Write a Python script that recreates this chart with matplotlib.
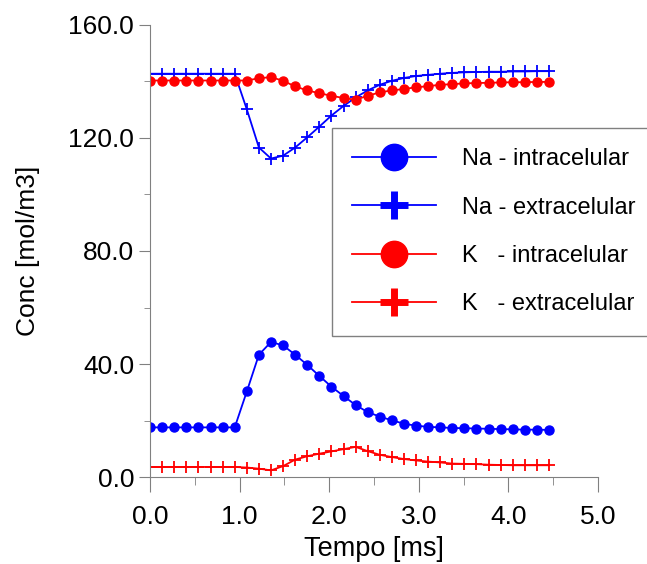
import numpy as np
import matplotlib
matplotlib.use("Agg")
import matplotlib.pyplot as plt
from matplotlib.lines import Line2D
from matplotlib.ticker import MultipleLocator, FormatStrFormatter

plt.rcParams['font.family'] = ['Liberation Sans', 'DejaVu Sans']

tempo = [0.0, 0.135, 0.27, 0.405, 0.54, 0.675, 0.81, 0.945, 1.08, 1.215,
         1.35, 1.485, 1.62, 1.755, 1.89, 2.025, 2.16, 2.295, 2.43, 2.565,
         2.7, 2.835, 2.97, 3.105, 3.24, 3.375, 3.51, 3.645, 3.78, 3.915,
         4.05, 4.185, 4.32, 4.455]

na_intra = [17.6, 17.6, 17.6, 17.6, 17.6, 17.6, 17.6, 17.6, 30.3, 43.3,
            47.8, 46.6, 43.3, 39.7, 35.8, 32.0, 28.7, 25.5, 23.0, 21.4,
            20.1, 18.9, 18.2, 17.8, 17.6, 17.4, 17.3, 17.2, 17.1, 17.0,
            16.9, 16.8, 16.8, 16.7]

na_extra = [142.7, 142.7, 142.7, 142.7, 142.7, 142.7, 142.7, 142.7, 130.1, 116.6,
            112.7, 113.7, 116.6, 120.2, 124.0, 127.9, 131.3, 134.3, 136.8, 138.8,
            140.2, 141.2, 141.9, 142.3, 142.7, 143.0, 143.2, 143.3, 143.4, 143.4,
            143.5, 143.5, 143.6, 143.6]

k_intra = [140.3, 140.3, 140.3, 140.3, 140.3, 140.3, 140.3, 140.3, 140.3, 141.1,
           141.5, 140.2, 138.2, 136.8, 135.8, 134.9, 134.1, 133.5, 134.9, 136.1,
           136.8, 137.3, 137.9, 138.3, 138.8, 139.0, 139.3, 139.4, 139.5, 139.6,
           139.7, 139.7, 139.8, 139.8]

k_extra = [3.6, 3.6, 3.6, 3.6, 3.6, 3.6, 3.6, 3.6, 3.4, 3.0,
           2.4, 3.9, 6.2, 7.4, 8.3, 9.1, 9.9, 10.7, 9.2, 7.9,
           7.1, 6.4, 5.9, 5.5, 5.2, 4.8, 4.7, 4.6, 4.4, 4.3,
           4.2, 4.2, 4.2, 4.2]

legenda = ['Na - intracelular', 'Na - extracelular', 'K   - intracelular', 'K   - extracelular']

fig = plt.figure(figsize=(6.47, 5.64), dpi=100)
ax = fig.add_axes([0.232, 0.154, 0.692, 0.802])

ax.plot(tempo, na_intra, color='blue', lw=1.3, marker='o', ms=6.5)
ax.plot(tempo, k_extra, color='red', lw=1.3, marker='+', ms=9, mew=1.3)
ax.plot(tempo, na_extra, color='blue', lw=1.3, marker='+', ms=9, mew=1.3)
ax.plot(tempo, k_intra, color='red', lw=1.3, marker='o', ms=6.5)

ax.set_xlim(0, 5)
ax.set_ylim(0, 160)
ax.xaxis.set_major_locator(MultipleLocator(1))
ax.xaxis.set_minor_locator(MultipleLocator(0.5))
ax.yaxis.set_major_locator(MultipleLocator(40))
ax.yaxis.set_minor_locator(MultipleLocator(20))
ax.xaxis.set_major_formatter(FormatStrFormatter('%.1f'))
ax.yaxis.set_major_formatter(FormatStrFormatter('%.1f'))

for lado in ['top', 'right']:
    ax.spines[lado].set_visible(False)
for lado in ['left', 'bottom']:
    ax.spines[lado].set_color('#808080')
ax.tick_params(which='both', direction='out', color='#808080', labelsize=19)
ax.tick_params(axis='x', which='major', length=11)
ax.tick_params(axis='x', which='minor', length=6)
ax.tick_params(axis='y', which='major', length=8)
ax.tick_params(axis='y', which='minor', length=4)
ax.tick_params(axis='x', pad=9)

ax.set_xlabel('Tempo [ms]', fontsize=19.5, labelpad=5)
ax.set_ylabel('Conc [mol/m3]', fontsize=19, labelpad=20)

handles = [
    Line2D([], [], color='blue', lw=1.3, marker='o', ms=19),
    Line2D([], [], color='blue', lw=1.3, marker='+', ms=20, mew=5),
    Line2D([], [], color='red', lw=1.3, marker='o', ms=19),
    Line2D([], [], color='red', lw=1.3, marker='+', ms=20, mew=5),
]
leg = fig.legend(handles, legenda, loc='upper left', bbox_to_anchor=(0.513, 0.773),
                 fontsize=17, handlelength=3.55, handletextpad=1.1, labelspacing=1.12,
                 borderpad=0.85, borderaxespad=0, fancybox=False, framealpha=1,
                 edgecolor='#808080')
leg.get_frame().set_linewidth(1.0)

fig.savefig('out.png', dpi=100)
